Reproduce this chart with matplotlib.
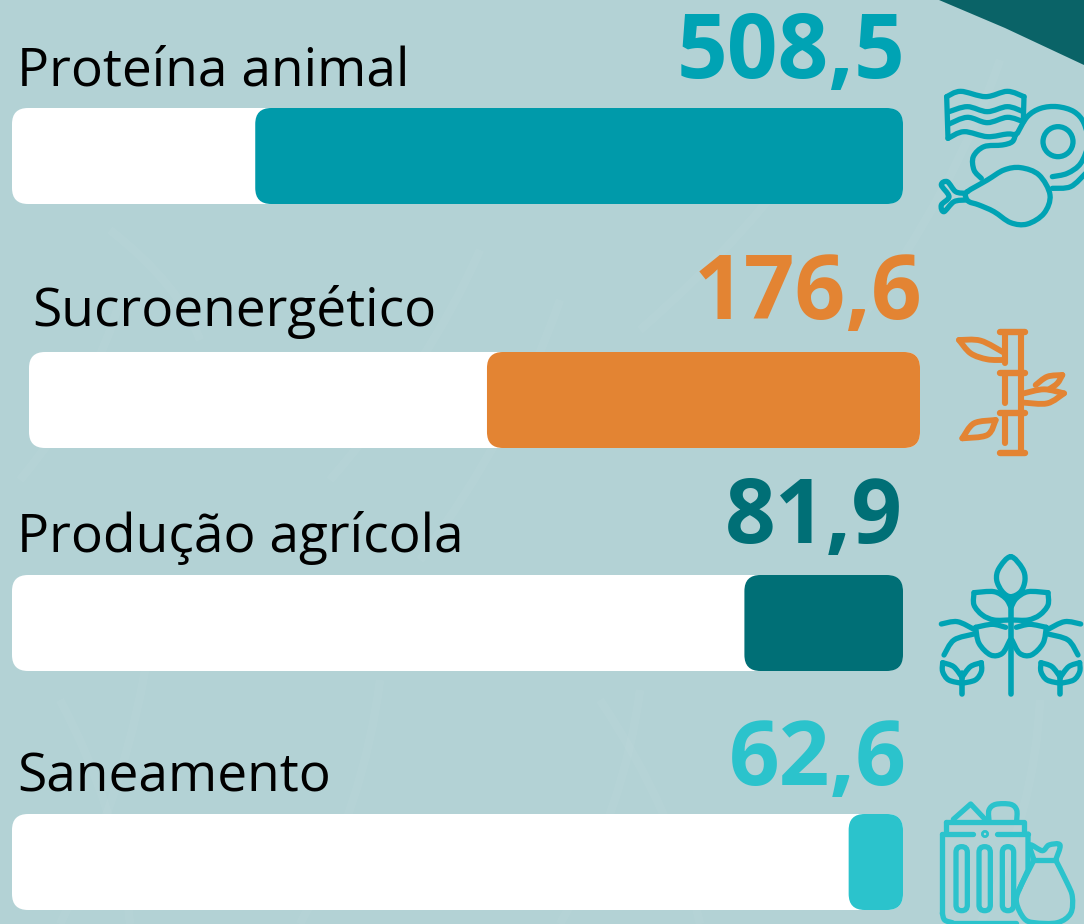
import numpy as np
import matplotlib.pyplot as plt
from matplotlib.patches import FancyBboxPatch, PathPatch, Ellipse
from matplotlib.path import Path

plt.rcParams['font.family'] = ['Open Sans', 'DejaVu Sans']

# data
categories = ['Proteína animal', 'Sucroenergético', 'Produção agrícola', 'Saneamento']
value_labels = ['508,5', '176,6', '81,9', '62,6']
fill_shares = [0.727, 0.486, 0.178, 0.061]
colors = ['#009aaa', '#e38433', '#006f76', '#2bc3cc']
text_colors = ['#00a3b4', '#e38433', '#006f76', '#2bc3cc']

# layout, in pixels of the 1084x924 picture
track_left = [12, 29, 12, 12]
track_top = [108, 352, 575, 814]
track_w = 891
track_h = 96
label_x = [17, 32, 17, 17]
label_y = [86, 326, 552, 791]
value_right = [905, 922, 903, 907]
value_y = [78, 319, 543, 785]

BG = '#b3d2d5'

fig = plt.figure(figsize=(10.84, 9.24), dpi=100, facecolor=BG)
ax = fig.add_axes([0, 0, 1, 1])
ax.set_xlim(0, 1084)
ax.set_ylim(924, 0)
ax.axis('off')


def rounded(x, y, w, h, color, rad=16, z=2):
    ax.add_patch(FancyBboxPatch((x + rad, y + rad), w - 2 * rad, h - 2 * rad,
                                boxstyle='round,pad=%d,rounding_size=%d' % (rad, rad),
                                fc=color, ec='none', zorder=z))


def stroke(pts, color, off, lw=3.8):
    # straight segments, points given in 3x zoom coordinates
    pts = np.array(pts, dtype=float) / 3 + off
    codes = [Path.MOVETO] + [Path.LINETO] * (len(pts) - 1)
    ax.add_patch(PathPatch(Path(pts, codes), fc='none', ec=color, lw=lw,
                           capstyle='round', joinstyle='round', zorder=3))


def curve(pts, color, off, lw=3.8):
    # smooth line through the points (catmull-rom turned into beziers)
    pts = np.array(pts, dtype=float) / 3 + off
    closed = np.allclose(pts[0], pts[-1])
    verts = [pts[0]]
    codes = [Path.MOVETO]
    n = len(pts)
    for i in range(n - 1):
        if closed:
            p0 = pts[(i - 1) % (n - 1)]
            p3 = pts[(i + 2) % (n - 1)]
        else:
            p0 = pts[max(i - 1, 0)]
            p3 = pts[min(i + 2, n - 1)]
        p1, p2 = pts[i], pts[i + 1]
        verts += [p1 + (p2 - p0) / 6, p2 - (p3 - p1) / 6, p2]
        codes += [Path.CURVE4] * 3
    ax.add_patch(PathPatch(Path(verts, codes), fc='none', ec=color, lw=lw,
                           capstyle='round', joinstyle='round', zorder=3))


def ring(cx, cy, r, color, off, lw=3.8):
    ax.add_patch(Ellipse((cx / 3 + off[0], cy / 3 + off[1]), 2 * r / 3, 2 * r / 3,
                         fc='none', ec=color, lw=lw, zorder=3))


def capsule(x0, y0, x1, y1, color, off, lw=3.8):
    x0, x1 = x0 / 3 + off[0], x1 / 3 + off[0]
    y0, y1 = y0 / 3 + off[1], y1 / 3 + off[1]
    r = (x1 - x0) / 2 - 0.01
    ax.add_patch(FancyBboxPatch((x0 + r, y0 + r), x1 - x0 - 2 * r, y1 - y0 - 2 * r,
                                boxstyle='round,pad=%f,rounding_size=%f' % (r, r),
                                fc='none', ec=color, lw=lw, zorder=3))


# faint grass texture of the photo behind the chart
grass = [(60, 924, 150, 640), (130, 924, 60, 700), (300, 924, 380, 680), (420, 560, 560, 300),
         (560, 924, 640, 690), (640, 330, 820, 130), (700, 924, 600, 700), (860, 320, 1000, 60),
         (980, 924, 1040, 700), (200, 340, 110, 230), (330, 480, 480, 250), (20, 480, 120, 300)]
for x0, y0, x1, y1 in grass:
    ax.add_patch(PathPatch(Path([(x0, y0), ((x0 + x1) / 2 + 25, (y0 + y1) / 2), (x1, y1)],
                                [Path.MOVETO, Path.CURVE3, Path.CURVE3]),
                           fc='none', ec='#c0dadc', lw=6, alpha=0.22, zorder=0))

# dark corner, top right
ax.fill([939, 1005, 1084, 1084], [0, 28, 65, 0], color='#0a6367', lw=0, zorder=1)

# bars and text
for i in range(len(categories)):
    rounded(track_left[i], track_top[i], track_w, track_h, 'white')
    w = track_w * fill_shares[i]
    rounded(track_left[i] + track_w - w, track_top[i], w, track_h, colors[i], z=2.5)
    ax.text(label_x[i], label_y[i], categories[i], fontsize=38.3, color='black',
            ha='left', va='baseline', zorder=4)
    ax.text(value_right[i], value_y[i], value_labels[i], fontsize=64, fontweight='bold',
            color=text_colors[i], ha='right', va='baseline', zorder=4)

# meat icon
c = '#00a3b4'
o = (924, 0)
curve([(68, 290), (110, 274), (185, 290), (250, 274), (300, 290)], c, o)
stroke([(68, 290), (72, 415)], c, o)
stroke([(300, 290), (298, 360)], c, o)
curve([(75, 335), (130, 320), (190, 335), (250, 320), (298, 335)], c, o)
curve([(75, 372), (130, 352), (190, 368), (250, 352), (298, 365)], c, o)
curve([(72, 415), (120, 395), (190, 410), (250, 402), (275, 405)], c, o)
curve([(275, 402), (265, 425), (235, 435), (180, 440), (148, 470), (150, 510), (172, 535)], c, o)
curve([(280, 400), (310, 350), (350, 325), (400, 320), (450, 335), (480, 370), (492, 430), (470, 490), (430, 520), (385, 530)], c, o)
curve([(385, 565), (440, 560), (485, 520)], c, o)
ring(402, 425, 45, c, o)
curve([(130, 575), (190, 540), (240, 510), (290, 503), (345, 525), (378, 585), (360, 640),
       (310, 672), (260, 668), (210, 635), (165, 615), (135, 605), (125, 590), (130, 575)], c, o)
curve([(125, 580), (95, 575), (70, 545), (52, 555), (75, 590), (52, 615), (60, 635), (90, 605), (125, 600)], c, o)

# bamboo icon
c = '#e38433'
o = (924, 310)
lw = 4.2
for y in [65, 188, 308, 430]:
    stroke([(228, y), (302, y)], c, o, lw=4.6)
stroke([(290, 65), (290, 430)], c, o, lw=4.4)
stroke([(242, 65), (242, 160)], c, o, lw=4.4)
stroke([(242, 188), (242, 280)], c, o, lw=4.4)
stroke([(242, 308), (242, 400)], c, o, lw=4.4)
curve([(105, 90), (170, 92), (240, 128)], c, o, lw=lw)
curve([(105, 90), (140, 130), (190, 148), (240, 150)], c, o, lw=lw)
curve([(300, 250), (360, 238), (420, 250)], c, o, lw=lw)
curve([(420, 250), (370, 280), (300, 278)], c, o, lw=lw)
curve([(335, 225), (370, 200), (415, 195)], c, o, lw=lw)
curve([(415, 195), (400, 220), (375, 238)], c, o, lw=lw)
curve([(115, 385), (150, 340), (215, 330)], c, o, lw=lw)
curve([(215, 330), (190, 375), (115, 385)], c, o, lw=lw)

# plant icon
c = '#00a3b4'
o = (924, 540)
curve([(260, 50), (225, 85), (218, 120), (235, 155), (260, 170), (290, 155), (303, 120), (295, 85), (260, 50)], c, o)
stroke([(261, 170), (261, 462)], c, o, lw=4)
for s in [1, -1]:
    mx = lambda x: 261 + s * (x - 261)
    curve([(mx(150), 158), (mx(150), 195), (mx(175), 225), (mx(210), 240), (mx(255), 240)], c, o)
    curve([(mx(150), 158), (mx(210), 155), (mx(245), 175), (mx(260), 200)], c, o)
    curve([(mx(155), 262), (mx(165), 310), (mx(200), 345), (mx(235), 340), (mx(258), 300)], c, o)
    curve([(mx(155), 262), (mx(205), 253), (mx(245), 262)], c, o)
    curve([(mx(52), 252), (mx(100), 245), (mx(150), 268)], c, o)
    curve([(mx(60), 345), (mx(90), 300), (mx(150), 282)], c, o)
for cx in [114, 409]:
    stroke([(cx, 400), (cx, 462)], c, o, lw=4)
    for s in [1, -1]:
        curve([(cx, 430), (cx - s * 40, 420), (cx - s * 58, 395), (cx - s * 58, 368)], c, o)
        curve([(cx - s * 58, 368), (cx - s * 25, 380), (cx, 412)], c, o)

# trash icon
c = '#2bc3cc'
o = (924, 780)
stroke([(88, 118), (140, 72), (190, 125)], c, o)
curve([(195, 122), (195, 90), (215, 73), (260, 73), (278, 90), (278, 122)], c, o)
stroke([(66, 125), (300, 125), (300, 155)], c, o)
stroke([(66, 125), (66, 160)], c, o)
stroke([(55, 162), (148, 162)], c, o)
stroke([(220, 162), (312, 162)], c, o)
ring(183, 162, 4, c, o)
stroke([(55, 162), (55, 400)], c, o)
curve([(55, 400), (62, 420), (85, 428)], c, o)
stroke([(85, 428), (275, 428)], c, o)
stroke([(312, 162), (312, 270), (285, 330)], c, o)
for cx in [113, 182, 252]:
    capsule(cx - 17, 200, cx + 17, 392, c, o)
curve([(330, 240), (318, 195), (355, 212), (375, 195), (408, 195), (395, 240)], c, o)
stroke([(330, 240), (395, 240)], c, o)
curve([(330, 240), (285, 330), (278, 370), (300, 415), (330, 428), (400, 428), (440, 400), (445, 350), (430, 310), (395, 240)], c, o)

fig.savefig('out.png', dpi=100, facecolor=BG)
